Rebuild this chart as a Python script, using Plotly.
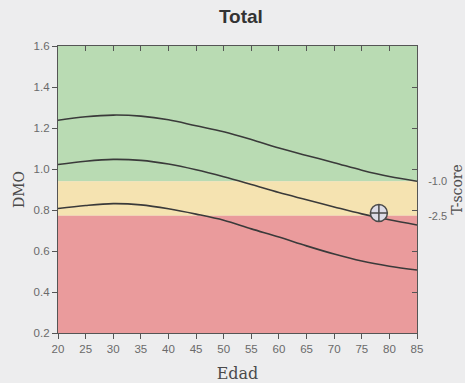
import plotly.graph_objects as go

# Reference curves of bone mineral density (DMO) by age
edad = [20, 25, 30, 35, 40, 45, 50, 55, 60, 65, 70, 75, 80, 85]
curva_alta = [1.238, 1.255, 1.263, 1.258, 1.240, 1.211, 1.182, 1.144, 1.102, 1.066, 1.031, 0.994, 0.963, 0.940]
curva_media = [1.022, 1.038, 1.047, 1.042, 1.024, 0.996, 0.962, 0.924, 0.885, 0.850, 0.815, 0.781, 0.752, 0.727]
curva_baja = [0.807, 0.822, 0.831, 0.825, 0.806, 0.780, 0.750, 0.708, 0.668, 0.625, 0.585, 0.551, 0.526, 0.507]

# Patient measurement
paciente_edad = [78.1]
paciente_dmo = [0.785]

# T-score thresholds expressed as DMO
tscore_valores = [0.940, 0.772]
tscore_textos = ["-1.0", "-2.5"]

# Diagnostic bands (DMO limits) and colours
rango_y = [0.2, 1.6]
bandas = [
    (tscore_valores[0], rango_y[1], "#b9dbb3"),   # normal
    (tscore_valores[1], tscore_valores[0], "#f5e3b1"),  # osteopenia
    (rango_y[0], tscore_valores[1], "#ea9b9c"),   # osteoporosis
]

eje = "#555555"
gris = "#6a6a6a"
fuente_num = dict(family="Liberation Sans, Arial", size=11.5, color=gris)

fig = go.Figure()

for curva in (curva_alta, curva_media, curva_baja):
    fig.add_trace(go.Scatter(
        x=edad, y=curva, mode="lines",
        line=dict(color="#3a3a3a", width=1.6, shape="spline", smoothing=1.0),
        hoverinfo="skip", showlegend=False,
    ))

fig.add_trace(go.Scatter(
    x=paciente_edad, y=paciente_dmo, mode="markers",
    marker=dict(symbol="circle-cross", size=17, color="#dcdce6",
                line=dict(color="#4a4a4a", width=1.5)),
    showlegend=False,
))

# invisible traces that attach the mirrored axes
fig.add_trace(go.Scatter(x=paciente_edad, y=paciente_dmo, xaxis="x2", yaxis="y3",
                         mode="markers", marker=dict(opacity=0), hoverinfo="skip",
                         showlegend=False))
fig.add_trace(go.Scatter(x=paciente_edad, y=paciente_dmo, xaxis="x", yaxis="y2",
                         mode="markers", marker=dict(opacity=0), hoverinfo="skip",
                         showlegend=False))

for y0, y1, color in bandas:
    fig.add_shape(type="rect", xref="x domain", x0=0, x1=1, yref="y", y0=y0, y1=y1,
                  fillcolor=color, line=dict(width=0), layer="below")

fig.update_layout(
    width=465, height=383,
    margin=dict(l=58, r=48, t=46, b=50, autoexpand=False),
    paper_bgcolor="#ededee",
    plot_bgcolor="rgba(0,0,0,0)",
    title=dict(text="<b>Total</b>", x=0.518, xref="container", y=1 - 16 / 383, yref="container",
               xanchor="center", yanchor="middle",
               font=dict(family="Liberation Sans, Arial", size=19, color="#333333")),
    xaxis=dict(range=[20, 85], tickvals=edad, ticks="outside", ticklen=5, tickwidth=1,
               tickcolor=eje, showline=True, linecolor=eje, linewidth=1.2,
               showgrid=False, zeroline=False, tickfont=fuente_num, automargin=False,
               title=dict(text="Edad", font=dict(family="DejaVu Serif", size=16, color="#4a4a4a"),
                          standoff=14)),
    xaxis2=dict(range=[20, 85], tickvals=edad, overlaying="x", side="top", anchor="y",
                ticks="inside", ticklen=5, tickwidth=1, tickcolor=eje,
                showline=True, linecolor=eje, linewidth=1.2, automargin=False,
                showticklabels=False, showgrid=False, zeroline=False),
    yaxis=dict(range=rango_y, dtick=0.2, tick0=0.2, tickformat=".1f", ticks="outside",
               ticklen=5, tickwidth=1, tickcolor=eje, showline=True, linecolor=eje,
               linewidth=1.2, showgrid=False, zeroline=False, tickfont=fuente_num,
               automargin=False,
               title=dict(text="DMO", font=dict(family="DejaVu Serif", size=14, color="#4a4a4a"),
                          standoff=5)),
    yaxis2=dict(range=rango_y, overlaying="y", side="right", anchor="x",
                tickvals=tscore_valores, ticktext=tscore_textos, ticks="outside",
                ticklen=8, tickcolor="rgba(0,0,0,0)", showline=False, showgrid=False,
                zeroline=False, automargin=False,
                tickfont=dict(family="Liberation Sans, Arial", size=11, color=gris),
                title=dict(text="T-score", font=dict(family="DejaVu Serif", size=14, color="#4a4a4a"),
                           standoff=8)),
    yaxis3=dict(range=rango_y, dtick=0.2, tick0=0.2, overlaying="y", side="right", anchor="x",
                ticks="inside", ticklen=5, tickwidth=1, tickcolor=eje, showline=True,
                linecolor=eje, linewidth=1.2, showticklabels=False, showgrid=False,
                zeroline=False, automargin=False),
)

fig.write_html("out.html")
